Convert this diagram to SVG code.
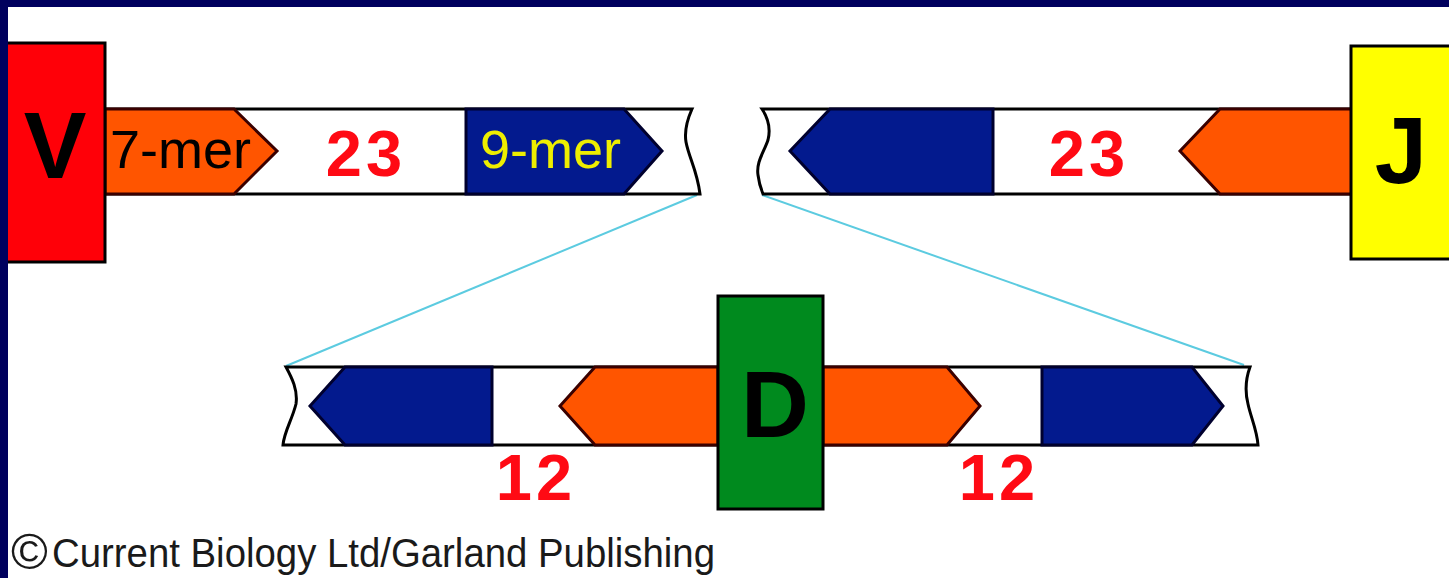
<svg xmlns="http://www.w3.org/2000/svg" width="1449" height="578" viewBox="0 0 1449 578">
  <style>
    .strand { fill: #ffffff; stroke: #000000; stroke-width: 3; stroke-linejoin: miter; }
    .orange { fill: #ff5500; stroke: #3a0000; stroke-width: 3; }
    .blue { fill: #031a8e; stroke: #00002e; stroke-width: 3; }
    .seg { stroke: #000000; stroke-width: 3; }
    .letter { font-family: "Liberation Sans", Arial, sans-serif; font-weight: bold; font-size: 94px; fill: #000000; text-anchor: middle; }
    .num { font-family: "Liberation Sans", Arial, sans-serif; font-weight: bold; font-size: 65px; fill: #ff0a14; text-anchor: middle; letter-spacing: 4px; }
    .mer { font-family: "Liberation Sans", Arial, sans-serif; font-size: 54px; }
    .link { stroke: #5ccbe0; stroke-width: 2; fill: none; }
  </style>

  <!-- page -->
  <rect x="0" y="0" width="1449" height="578" fill="#ffffff"/>

  <!-- zoom lines -->
  <g id="connectors">
    <line class="link" x1="697" y1="195" x2="286" y2="366"/>
    <line class="link" x1="762" y1="195" x2="1244" y2="365"/>
  </g>

  <!-- upper-left strand: V side, 23-bp spacer signal -->
  <g id="strand-v">
    <path class="strand" d="M105,109 L692,109 C688,118 684,130 686,142 C689,158 697,170 700,194 L105,194 Z"/>
    <polygon class="orange" points="105,109 234,109 277,151 234,194 105,194"/>
    <text class="mer" x="110" y="168" fill="#000000">7-mer</text>
    <polygon class="blue" points="466,109 624,109 662,151 624,194 466,194"/>
    <text class="mer" x="480" y="168" fill="#eeee00">9-mer</text>
    <text class="num" x="366" y="176">23</text>
  </g>

  <!-- upper-right strand: J side -->
  <g id="strand-j">
    <path class="strand" d="M762,109 C768,118 771,128 768,140 C764,152 756,162 758,175 C759,184 761,189 763,194 L1352,194 L1352,109 Z"/>
    <polygon class="blue" points="993,109 830,109 790,151 830,194 993,194"/>
    <polygon class="orange" points="1352,109 1220,109 1180,151 1220,194 1352,194"/>
    <text class="num" x="1089" y="176">23</text>
  </g>

  <!-- lower strand: D segment with two 12-bp spacer signals -->
  <g id="strand-d">
    <path class="strand" d="M286,367 L1250,367 C1246,378 1245,392 1248,404 C1251,418 1257,430 1258,445 L283,445 C284,432 292,420 296,404 C298,390 292,378 286,367 Z"/>
    <polygon class="blue" points="492,367 345,367 310,406 345,445 492,445"/>
    <polygon class="orange" points="718,367 595,367 560,406 595,445 718,445"/>
    <polygon class="orange" points="823,367 947,367 980,406 947,445 823,445"/>
    <polygon class="blue" points="1042,367 1192,367 1223,406 1192,445 1042,445"/>
    <text class="num" x="536" y="500">12</text>
    <text class="num" x="999" y="500">12</text>
  </g>

  <g id="node-v">
    <rect class="seg" x="2" y="43" width="103" height="219" fill="#ff0008"/>
    <text class="letter" x="55" y="178">V</text>
  </g>

  <g id="node-j">
    <rect class="seg" x="1351" y="46" width="110" height="213" fill="#ffff00"/>
    <text class="letter" x="1401" y="183">J</text>
  </g>

  <g id="node-d">
    <rect class="seg" x="718" y="296" width="105" height="213" fill="#008a1e"/>
    <text class="letter" x="775" y="437">D</text>
  </g>

  <!-- frame -->
  <rect x="0" y="0" width="1449" height="7" fill="#00005e"/>
  <rect x="0" y="0" width="8" height="578" fill="#00005e"/>

  <g id="credit">
    <text x="11" y="569" font-family="'Liberation Sans Narrow', 'Liberation Sans', Arial, sans-serif" font-size="40" fill="#1a1a1a"><tspan font-size="50" font-family="'Liberation Sans', Arial, sans-serif">©</tspan><tspan x="52" y="567" textLength="663" lengthAdjust="spacingAndGlyphs">Current Biology Ltd/Garland Publishing</tspan></text>
  </g>
</svg>
